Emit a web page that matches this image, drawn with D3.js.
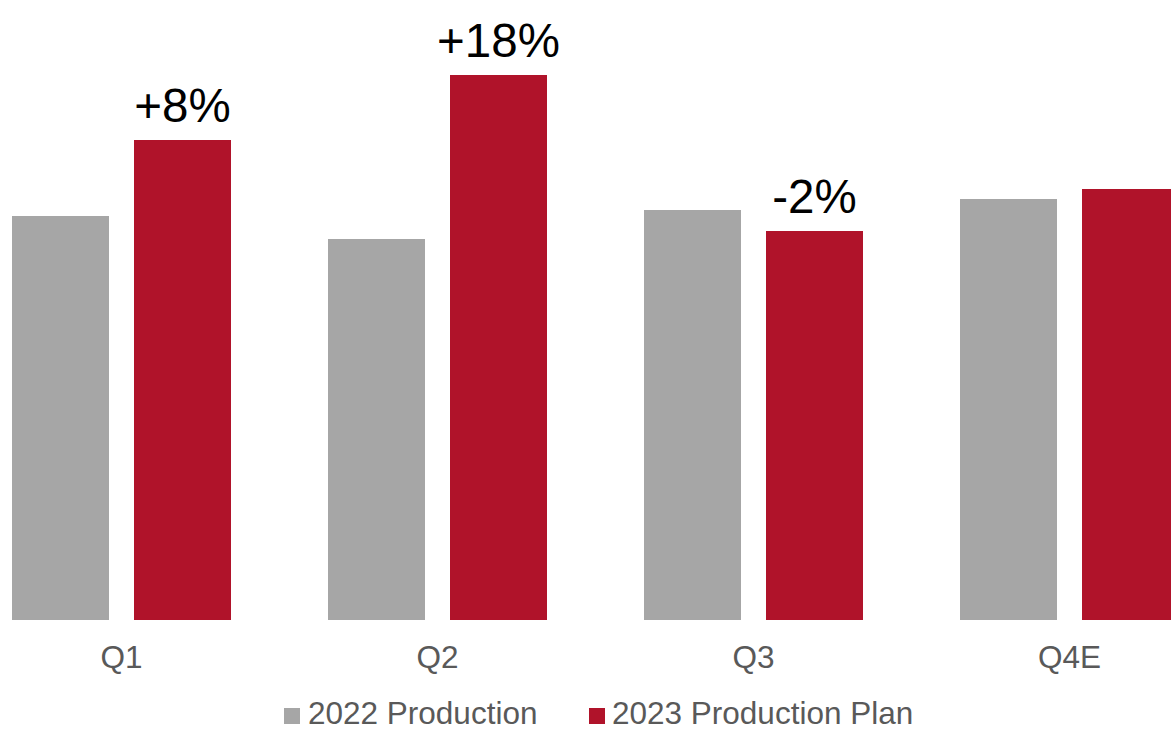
<!DOCTYPE html>
<html>
<head>
<meta charset="utf-8">
<script src="https://cdn.jsdelivr.net/npm/d3@7"></script>
<style>
  html, body { margin: 0; padding: 0; background: #fff; }
  svg { display: block; font-family: "Liberation Sans", Arial, sans-serif; }
</style>
</head>
<body>
<div id="chart"></div>
<script>
const quarters = ["Q1", "Q2", "Q3", "Q4E"];
const seriesNames = ["2022 Production", "2023 Production Plan"];
const production2022 = [944, 921, 950, 961];
const plan2023 = [1020, 1085, 929, 971];
const changeLabels = ["+8%", "+18%", "-2%", ""];

const width = 1171;
const height = 731;
const baseline = 620;
const colors = ["#a6a6a6", "#b0132a"];
const font = "'Liberation Sans', Arial, sans-serif";

const data = quarters.map((q, i) => ({
  quarter: q,
  values: [production2022[i], plan2023[i]],
  label: changeLabels[i]
}));

const svg = d3.select("#chart")
  .append("svg")
  .attr("width", width)
  .attr("height", height);

// outer band: 4 groups, 316px step, 219px group width
const x0 = d3.scaleBand()
  .domain(quarters)
  .range([-36.5, 1227.5])
  .paddingInner(0.307)
  .paddingOuter(0.1535);

const x1 = d3.scaleBand()
  .domain([0, 1])
  .range([0, x0.bandwidth()])
  .paddingInner(0.205)
  .paddingOuter(0);

// axis does not start at zero
const y = d3.scaleLinear()
  .domain([540, 1100])
  .range([baseline, 60]);

const groups = svg.append("g")
  .selectAll("g")
  .data(data)
  .join("g")
  .attr("transform", d => "translate(" + x0(d.quarter) + ",0)");

groups.selectAll("rect")
  .data(d => d.values.map((v, i) => ({ i: i, v: v })))
  .join("rect")
  .attr("x", d => x1(d.i))
  .attr("y", d => y(d.v))
  .attr("width", x1.bandwidth())
  .attr("height", d => baseline - y(d.v))
  .attr("fill", d => colors[d.i]);

groups.filter(d => d.label)
  .append("text")
  .attr("x", x1(1) + x1.bandwidth() / 2)
  .attr("y", d => y(d.values[1]) - 18)
  .attr("text-anchor", "middle")
  .style("font-family", font)
  .style("font-size", "47.5px")
  .style("fill", "#000")
  .text(d => d.label);

// x axis labels
const xAxis = svg.append("g")
  .attr("transform", "translate(0," + baseline + ")")
  .call(d3.axisBottom(x0).tickSize(0).tickPadding(0));
xAxis.select(".domain").remove();
xAxis.selectAll("text")
  .attr("dy", null)
  .attr("y", 48)
  .style("font-size", "31.5px")
  .style("font-family", font)
  .style("fill", "#595959");

// legend
const legendItems = [
  { name: seriesNames[0], color: colors[0], x: 284, tx: 308 },
  { name: seriesNames[1], color: colors[1], x: 589, tx: 612 }
];
const legend = svg.append("g");
legend.selectAll("rect")
  .data(legendItems)
  .join("rect")
  .attr("x", d => d.x)
  .attr("y", 708)
  .attr("width", 16)
  .attr("height", 16)
  .attr("fill", d => d.color);
legend.selectAll("text")
  .data(legendItems)
  .join("text")
  .attr("x", d => d.tx)
  .attr("y", 724)
  .style("font-family", font)
  .style("font-size", "31.5px")
  .style("fill", "#595959")
  .text(d => d.name);
</script>
</body>
</html>
